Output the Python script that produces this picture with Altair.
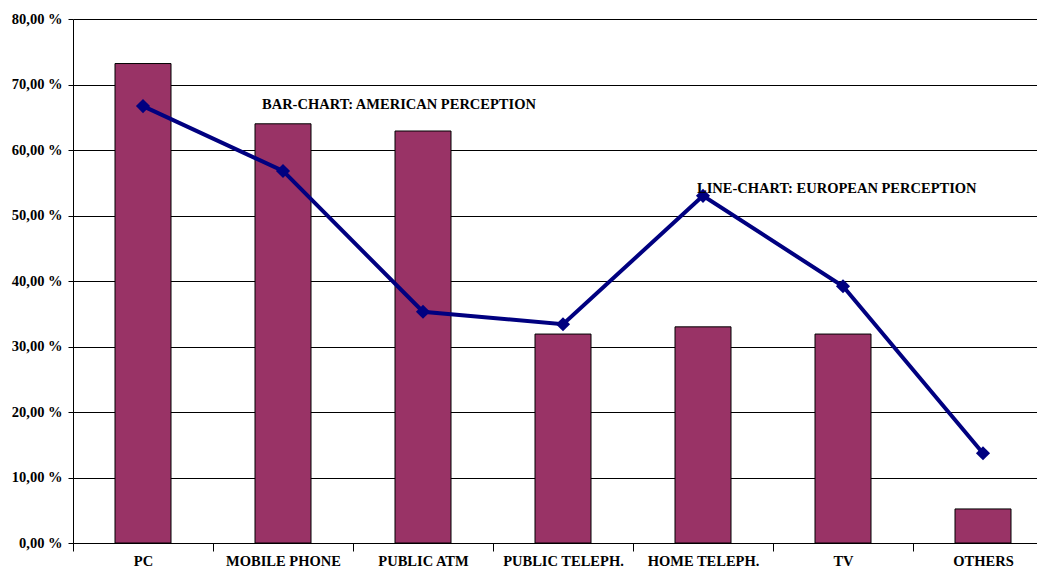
import altair as alt
import pandas as pd

# Device categories and the two surveyed perceptions (percent)
categories = ["PC", "MOBILE PHONE", "PUBLIC ATM", "PUBLIC TELEPH.",
              "HOME TELEPH.", "TV", "OTHERS"]
american = [73.2, 64.0, 62.9, 31.9, 33.0, 31.9, 5.2]
european = [66.7, 56.8, 35.3, 33.4, 53.0, 39.2, 13.7]

df = pd.DataFrame({"device": categories, "american": american, "european": european})

FONT = "Liberation Serif"
FS = 14.5

x_scale = alt.Scale(domain=categories, range=[0, 980], paddingInner=0, paddingOuter=0)
y_scale = alt.Scale(domain=[0, 80], nice=False)

x_enc = alt.X(
    "device:N", scale=x_scale, sort=categories, title=None,
    axis=alt.Axis(labelAngle=0, tickBand="extent", tickSize=8, labelPadding=3,
                  labelFont=FONT, labelFontWeight="bold", labelFontSize=FS,
                  labelColor="black", domainColor="black", tickColor="black",
                  grid=False, labelOverlap=False),
)

y_axis = alt.Axis(
    values=[0, 10, 20, 30, 40, 50, 60, 70, 80],
    labelExpr="replace(format(datum.value, '.2f'), '.', ',') + ' %'",
    labelFont=FONT, labelFontWeight="bold", labelFontSize=FS, labelColor="black",
    tickSize=5, labelPadding=6, domainColor="black", tickColor="black",
    grid=True, gridColor="black", gridWidth=1, title=None,
)

bars = alt.Chart(df).mark_bar(
    color="#993366", stroke="black", strokeWidth=1, width=alt.RelativeBandSize(0.4)
).encode(
    x=x_enc,
    y=alt.Y("american:Q", scale=y_scale, axis=y_axis),
)

line = alt.Chart(df).mark_line(color="#000080", strokeWidth=4).encode(
    x=alt.X("device:N", scale=x_scale, sort=categories),
    y=alt.Y("european:Q", scale=y_scale),
)

points = alt.Chart(df).mark_point(
    shape="diamond", filled=True, color="#000080", size=200, opacity=1
).encode(
    x=alt.X("device:N", scale=x_scale, sort=categories),
    y=alt.Y("european:Q", scale=y_scale),
)

notes = pd.DataFrame({
    "label": ["BAR-CHART: AMERICAN PERCEPTION", "LINE-CHART: EUROPEAN PERCEPTION"],
    "px": [189, 624],
    "py": [86, 170],
})

labels = alt.Chart(notes).mark_text(
    align="left", baseline="middle", font=FONT, fontWeight="bold",
    fontSize=FS, color="black",
).encode(
    x=alt.X("px:Q", scale=None),
    y=alt.Y("py:Q", scale=None),
    text="label:N",
)

chart = alt.layer(bars, line, points, labels).properties(
    width=964, height=524,
    autosize=alt.AutoSizeParams(type="none"),
    padding={"left": 73, "top": 19, "right": 0, "bottom": 27},
    background="white",
).configure_view(stroke=None)

chart.save("out.html", embed_options={"renderer": "svg", "actions": False})
